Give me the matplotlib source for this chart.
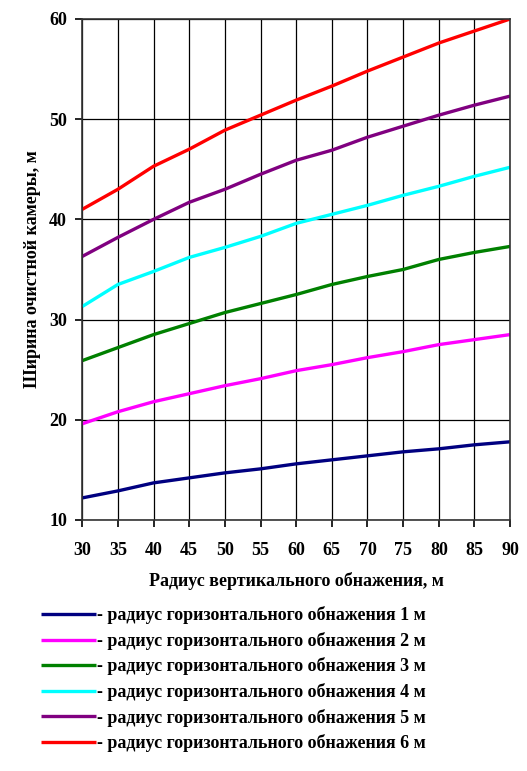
import numpy as np
from matplotlib import pyplot as plt

# radius of vertical exposure, m
radius_v = [30, 35, 40, 45, 50, 55, 60, 65, 70, 75, 80, 85, 90]

# chamber width for each radius of horizontal exposure (1..6 m)
width_1 = [12.2, 12.9, 13.7, 14.2, 14.7, 15.1, 15.6, 16.0, 16.4, 16.8, 17.1, 17.5, 17.8]
width_2 = [19.6, 20.8, 21.8, 22.6, 23.4, 24.1, 24.9, 25.5, 26.2, 26.8, 27.5, 28.0, 28.5]
width_3 = [25.9, 27.2, 28.5, 29.6, 30.7, 31.6, 32.5, 33.5, 34.3, 35.0, 36.0, 36.7, 37.3]
width_4 = [31.3, 33.5, 34.8, 36.2, 37.2, 38.3, 39.6, 40.5, 41.4, 42.4, 43.3, 44.3, 45.2]
width_5 = [36.3, 38.2, 40.0, 41.7, 43.0, 44.5, 45.9, 46.9, 48.2, 49.3, 50.4, 51.4, 52.3]
width_6 = [41.0, 43.0, 45.3, 47.0, 48.9, 50.4, 51.9, 53.3, 54.8, 56.2, 57.6, 58.8, 60.0]

labels = ['- радиус горизонтального обнажения %d м' % i for i in range(1, 7)]
colors = ['#000080', '#ff00ff', '#008000', '#00ffff', '#800080', '#ff0000']

plt.rcParams['font.family'] = ['Liberation Serif', 'DejaVu Serif']
plt.rcParams['font.weight'] = 'bold'

fig = plt.figure(figsize=(5.27, 7.71), dpi=100)
ax = fig.add_axes([0.156, 0.3256, 0.812, 0.6498])

series = [width_1, width_2, width_3, width_4, width_5, width_6]
for ys, c, lab in zip(series, colors, labels):
    ax.plot(radius_v, ys, color=c, lw=2.4, label=lab, solid_capstyle='butt')

ax.set_xlim(30, 90)
ax.set_ylim(10, 60)
ax.set_xticks(radius_v)
ax.set_yticks([10, 20, 30, 40, 50, 60])
ax.grid(True, color='black', lw=0.9)
ax.set_axisbelow(True)
for s in ax.spines.values():
    s.set_color('#333333')
    s.set_linewidth(1.2)
ax.tick_params(direction='out', length=5, width=1.2, labelsize=13, pad=6)
ax.tick_params(axis='x', pad=11)
for t in ax.get_xticklabels() + ax.get_yticklabels():
    t.set_fontweight('bold')

ax.set_xlabel('Радиус вертикального обнажения, м', fontsize=13, fontweight='bold', labelpad=9)
ax.set_ylabel('Ширина очистной камеры, м', fontsize=13, fontweight='bold', labelpad=6)

fig.legend(loc='upper left', bbox_to_anchor=(0.065, 0.223), frameon=False,
           handlelength=3.0, handletextpad=0.1, labelspacing=0.42,
           borderaxespad=0, prop={'weight': 'bold', 'size': 13})

fig.savefig('out.png', dpi=100)
